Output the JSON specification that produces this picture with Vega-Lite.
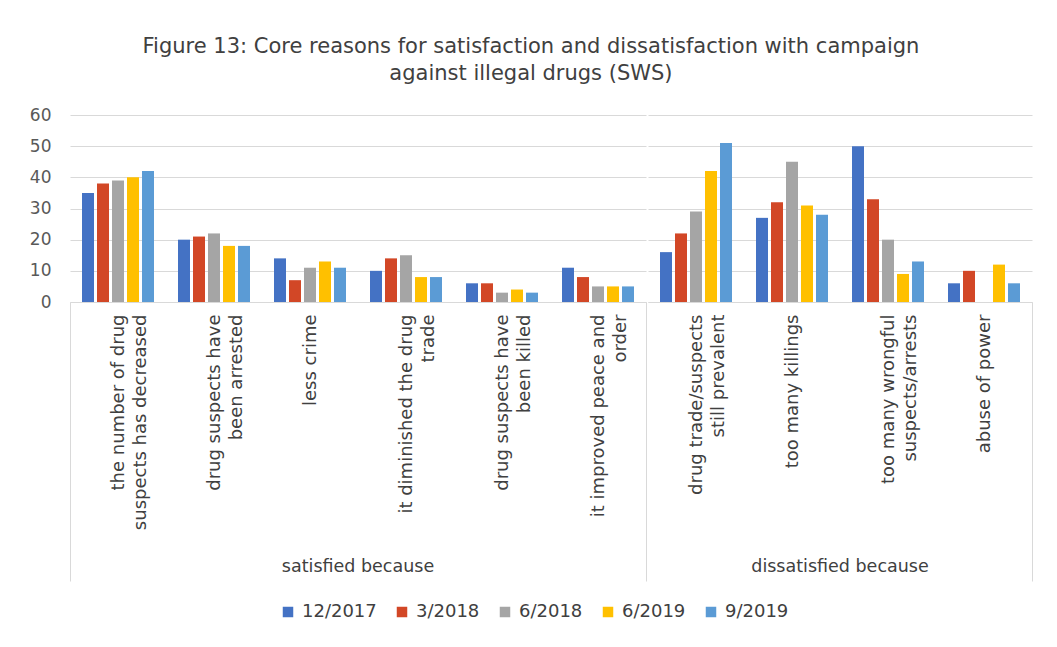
{
  "$schema": "https://vega.github.io/schema/vega-lite/v6.json",
  "padding": {"left": 29, "top": 36, "right": 20, "bottom": 10},
  "background": "white",
  "title": {
    "text": ["Figure 13: Core reasons for satisfaction and dissatisfaction with campaign", "against illegal drugs (SWS)"],
    "font": "DejaVu Sans", "fontSize": 21, "fontWeight": "normal", "color": "#404040",
    "lineHeight": 27, "anchor": "middle", "offset": 22, "dx": 0
  },
  "data": {"values": [
    {"group": "satisfied because", "ord": 1, "category": "the number of drug|suspects has decreased", "period": "12/2017", "value": 35},
    {"group": "satisfied because", "ord": 1, "category": "the number of drug|suspects has decreased", "period": "3/2018", "value": 38},
    {"group": "satisfied because", "ord": 1, "category": "the number of drug|suspects has decreased", "period": "6/2018", "value": 39},
    {"group": "satisfied because", "ord": 1, "category": "the number of drug|suspects has decreased", "period": "6/2019", "value": 40},
    {"group": "satisfied because", "ord": 1, "category": "the number of drug|suspects has decreased", "period": "9/2019", "value": 42},
    {"group": "satisfied because", "ord": 2, "category": "drug suspects have|been arrested", "period": "12/2017", "value": 20},
    {"group": "satisfied because", "ord": 2, "category": "drug suspects have|been arrested", "period": "3/2018", "value": 21},
    {"group": "satisfied because", "ord": 2, "category": "drug suspects have|been arrested", "period": "6/2018", "value": 22},
    {"group": "satisfied because", "ord": 2, "category": "drug suspects have|been arrested", "period": "6/2019", "value": 18},
    {"group": "satisfied because", "ord": 2, "category": "drug suspects have|been arrested", "period": "9/2019", "value": 18},
    {"group": "satisfied because", "ord": 3, "category": "less crime", "period": "12/2017", "value": 14},
    {"group": "satisfied because", "ord": 3, "category": "less crime", "period": "3/2018", "value": 7},
    {"group": "satisfied because", "ord": 3, "category": "less crime", "period": "6/2018", "value": 11},
    {"group": "satisfied because", "ord": 3, "category": "less crime", "period": "6/2019", "value": 13},
    {"group": "satisfied because", "ord": 3, "category": "less crime", "period": "9/2019", "value": 11},
    {"group": "satisfied because", "ord": 4, "category": "it diminished the drug|trade", "period": "12/2017", "value": 10},
    {"group": "satisfied because", "ord": 4, "category": "it diminished the drug|trade", "period": "3/2018", "value": 14},
    {"group": "satisfied because", "ord": 4, "category": "it diminished the drug|trade", "period": "6/2018", "value": 15},
    {"group": "satisfied because", "ord": 4, "category": "it diminished the drug|trade", "period": "6/2019", "value": 8},
    {"group": "satisfied because", "ord": 4, "category": "it diminished the drug|trade", "period": "9/2019", "value": 8},
    {"group": "satisfied because", "ord": 5, "category": "drug suspects have|been killed", "period": "12/2017", "value": 6},
    {"group": "satisfied because", "ord": 5, "category": "drug suspects have|been killed", "period": "3/2018", "value": 6},
    {"group": "satisfied because", "ord": 5, "category": "drug suspects have|been killed", "period": "6/2018", "value": 3},
    {"group": "satisfied because", "ord": 5, "category": "drug suspects have|been killed", "period": "6/2019", "value": 4},
    {"group": "satisfied because", "ord": 5, "category": "drug suspects have|been killed", "period": "9/2019", "value": 3},
    {"group": "satisfied because", "ord": 6, "category": "it improved peace and|order", "period": "12/2017", "value": 11},
    {"group": "satisfied because", "ord": 6, "category": "it improved peace and|order", "period": "3/2018", "value": 8},
    {"group": "satisfied because", "ord": 6, "category": "it improved peace and|order", "period": "6/2018", "value": 5},
    {"group": "satisfied because", "ord": 6, "category": "it improved peace and|order", "period": "6/2019", "value": 5},
    {"group": "satisfied because", "ord": 6, "category": "it improved peace and|order", "period": "9/2019", "value": 5},
    {"group": "dissatisfied because", "ord": 7, "category": "drug trade/suspects|still prevalent", "period": "12/2017", "value": 16},
    {"group": "dissatisfied because", "ord": 7, "category": "drug trade/suspects|still prevalent", "period": "3/2018", "value": 22},
    {"group": "dissatisfied because", "ord": 7, "category": "drug trade/suspects|still prevalent", "period": "6/2018", "value": 29},
    {"group": "dissatisfied because", "ord": 7, "category": "drug trade/suspects|still prevalent", "period": "6/2019", "value": 42},
    {"group": "dissatisfied because", "ord": 7, "category": "drug trade/suspects|still prevalent", "period": "9/2019", "value": 51},
    {"group": "dissatisfied because", "ord": 8, "category": "too many killings", "period": "12/2017", "value": 27},
    {"group": "dissatisfied because", "ord": 8, "category": "too many killings", "period": "3/2018", "value": 32},
    {"group": "dissatisfied because", "ord": 8, "category": "too many killings", "period": "6/2018", "value": 45},
    {"group": "dissatisfied because", "ord": 8, "category": "too many killings", "period": "6/2019", "value": 31},
    {"group": "dissatisfied because", "ord": 8, "category": "too many killings", "period": "9/2019", "value": 28},
    {"group": "dissatisfied because", "ord": 9, "category": "too many wrongful|suspects/arrests", "period": "12/2017", "value": 50},
    {"group": "dissatisfied because", "ord": 9, "category": "too many wrongful|suspects/arrests", "period": "3/2018", "value": 33},
    {"group": "dissatisfied because", "ord": 9, "category": "too many wrongful|suspects/arrests", "period": "6/2018", "value": 20},
    {"group": "dissatisfied because", "ord": 9, "category": "too many wrongful|suspects/arrests", "period": "6/2019", "value": 9},
    {"group": "dissatisfied because", "ord": 9, "category": "too many wrongful|suspects/arrests", "period": "9/2019", "value": 13},
    {"group": "dissatisfied because", "ord": 10, "category": "abuse of power", "period": "12/2017", "value": 6},
    {"group": "dissatisfied because", "ord": 10, "category": "abuse of power", "period": "3/2018", "value": 10},
    {"group": "dissatisfied because", "ord": 10, "category": "abuse of power", "period": "6/2019", "value": 12},
    {"group": "dissatisfied because", "ord": 10, "category": "abuse of power", "period": "9/2019", "value": 6}
  ]},
  "facet": {
    "column": {
      "field": "group", "type": "nominal",
      "sort": ["satisfied because", "dissatisfied because"],
      "title": null,
      "header": {
        "labelOrient": "bottom", "labelFont": "DejaVu Sans", "labelFontSize": 17.5,
        "labelColor": "#404040", "labelPadding": -24
      }
    }
  },
  "spacing": 0,
  "resolve": {"scale": {"x": "independent", "xOffset": "independent"}},
  "spec": {
    "width": {"step": 96, "for": "position"},
    "height": 187,
    "encoding": {
      "xOffset": {
        "field": "period", "type": "nominal",
        "sort": ["12/2017", "3/2018", "6/2018", "6/2019", "9/2019"],
        "scale": {"paddingInner": 0.2}
      },
      "y": {
        "field": "value", "type": "quantitative", "title": null,
        "scale": {"domain": [0, 60]},
        "axis": {
          "values": [0, 10, 20, 30, 40, 50, 60], "domain": false, "ticks": false,
          "labelFont": "DejaVu Sans", "labelFontSize": 17, "labelColor": "#595959",
          "labelPadding": 18, "gridColor": "#d9d9d9", "gridWidth": 1
        }
      },
      "color": {
        "field": "period", "type": "nominal",
        "sort": ["12/2017", "3/2018", "6/2018", "6/2019", "9/2019"],
        "scale": {
          "domain": ["12/2017", "3/2018", "6/2018", "6/2019", "9/2019"],
          "range": ["#4472C4", "#D24726", "#A5A5A5", "#FFC000", "#5B9BD5"]
        },
        "legend": {
          "title": null, "orient": "none", "direction": "horizontal",
          "legendX": 209, "legendY": 488,
          "symbolType": "square", "symbolSize": 110, "symbolStrokeWidth": 0,
          "labelFont": "DejaVu Sans", "labelFontSize": 18, "labelColor": "#404040",
          "columnPadding": 16, "symbolOffset": 0, "labelOffset": 5
        }
      }
    },
    "layer": [
      {
        "mark": {"type": "bar"},
        "encoding": {
          "x": {
            "field": "category", "type": "nominal", "sort": {"field": "ord", "op": "min"},
            "title": null,
            "scale": {"paddingInner": 0.25, "paddingOuter": 0.125},
            "axis": {
              "orient": "bottom",
              "labelAngle": -90, "labelAlign": "right", "labelBaseline": "middle",
              "labelExpr": "split(datum.label, '|')",
              "labelFont": "DejaVu Sans", "labelFontSize": 18, "labelColor": "#404040",
              "labelLineHeight": 22, "labelLimit": 400,
              "domainColor": "#d9d9d9", "domainWidth": 1,
              "tickOffset": -48, "labelOffset": 48,
              "tickSize": 279, "tickWidth": 1,
              "tickColor": {"condition": {"test": "datum.value === 'the number of drug|suspects has decreased'", "value": "#d9d9d9"}, "value": "transparent"},
              "labelPadding": -267
            }
          }
        }
      },
      {
        "mark": {"type": "bar", "opacity": 0},
        "encoding": {
          "x": {
            "field": "category", "type": "nominal", "sort": {"field": "ord", "op": "min"},
            "title": null,
            "axis": {
              "orient": "bottom", "labels": false, "domain": false, "grid": false,
              "tickOffset": 48, "tickSize": 279, "tickWidth": 1,
              "tickColor": {"condition": {"test": "datum.index === 1", "value": "#d9d9d9"}, "value": "transparent"}
            }
          }
        }
      }
    ],
    "resolve": {"axis": {"x": "independent"}}
  },
  "config": {
    "view": {"stroke": null}
  }
}
